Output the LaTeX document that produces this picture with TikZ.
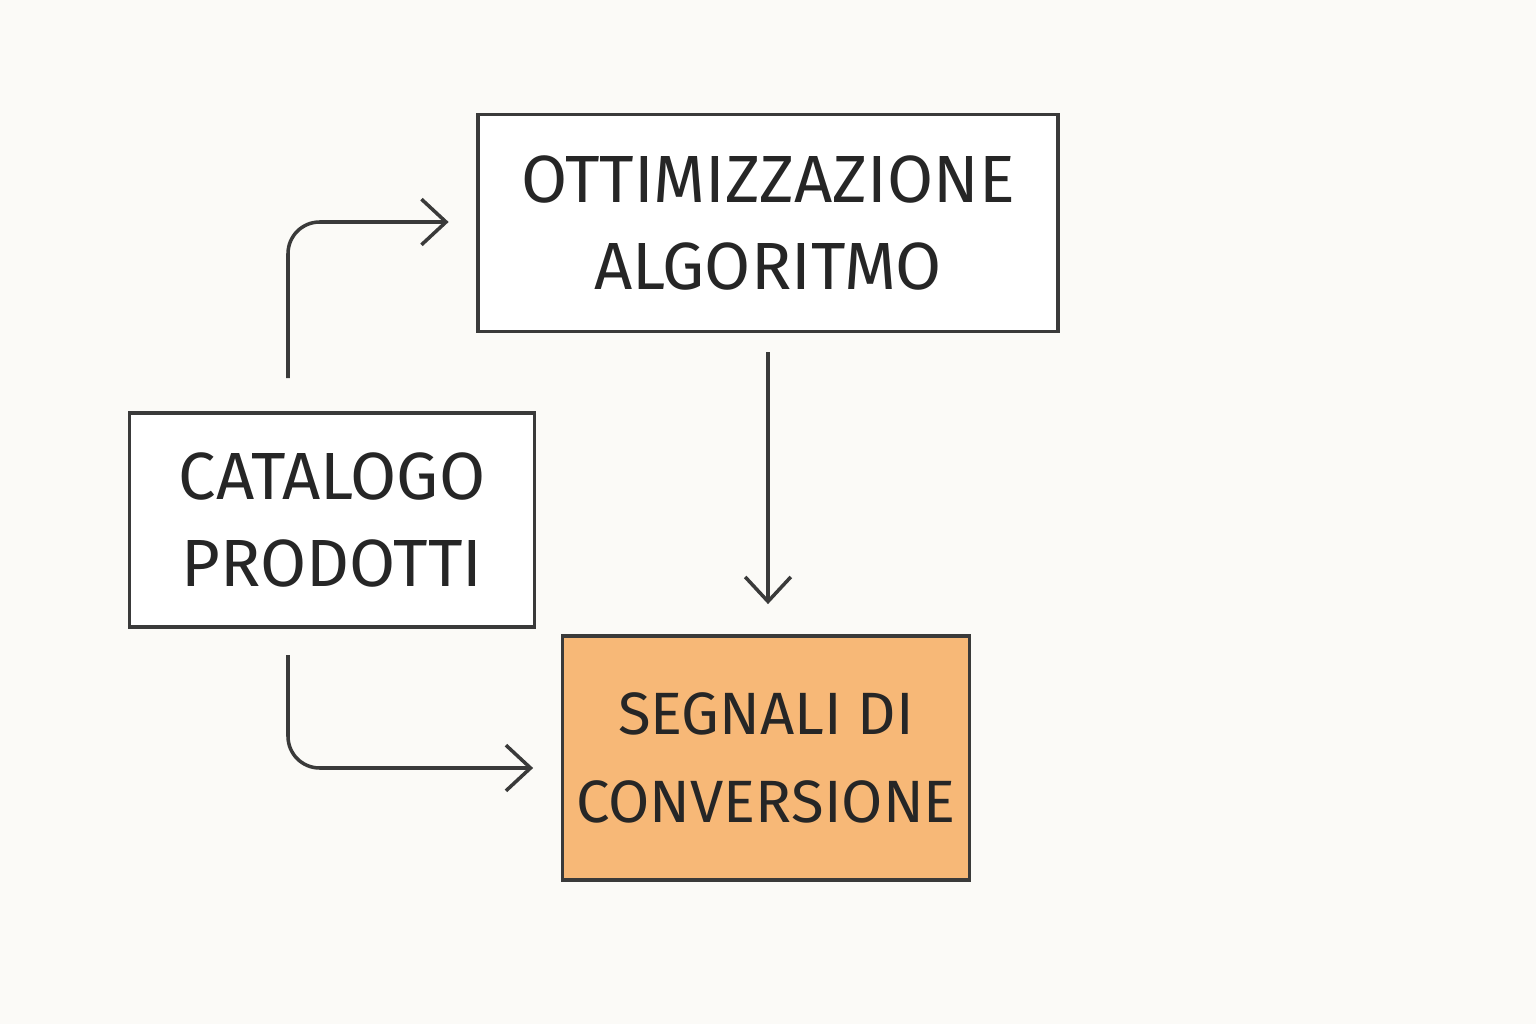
\documentclass[tikz,border=0pt]{standalone}
\usepackage{fontspec}
\setmainfont{Fira Sans}
\usetikzlibrary{arrows.meta, positioning}
\definecolor{pencil}{HTML}{3A3A3A}
\definecolor{peach}{HTML}{F7B877}
\definecolor{paper}{HTML}{FBFAF7}
\tikzset{
  box/.style={rectangle, draw=pencil, line width=2.2pt, fill=white, text centered, align=center,
    font=\fontsize{38}{50}\selectfont, text=black!85},
  arrow/.style={draw=pencil, line width=2pt, rounded corners=18pt, -{Straight Barb[length=14pt, width=26pt]}}
}
\begin{document}
\begin{tikzpicture}[x=0.02cm, y=-0.02cm]
    \useasboundingbox[fill=paper] (0,0) rectangle (1536,1024);

    \node (opt) [box, minimum width=11.6cm, minimum height=4.34cm] at (768,223) {OTTIMIZZAZIONE\\ALGORITMO};
    \node (cat) [box, minimum width=8.1cm, minimum height=4.28cm] at (332,520) {CATALOGO\\PRODOTTI};
    \node (seg) [box, fill=peach, font=\fontsize{34}{50}\selectfont, minimum width=8.14cm, minimum height=4.88cm] at (766,758) {SEGNALI DI\\CONVERSIONE};

    \coordinate (catTop) at (288,378);
    \coordinate (catBot) at (288,655);
    \coordinate (optBot) at (768,352);

    \draw [arrow] (catTop) |- ([xshift=-0.55cm]opt.west |- 0,222);
    \draw [arrow] (catBot) |- ([xshift=-0.55cm]seg.west |- 0,768);
    \draw [arrow] (optBot) -- ([yshift=0.6cm]seg.north -| optBot);
\end{tikzpicture}
\end{document}
